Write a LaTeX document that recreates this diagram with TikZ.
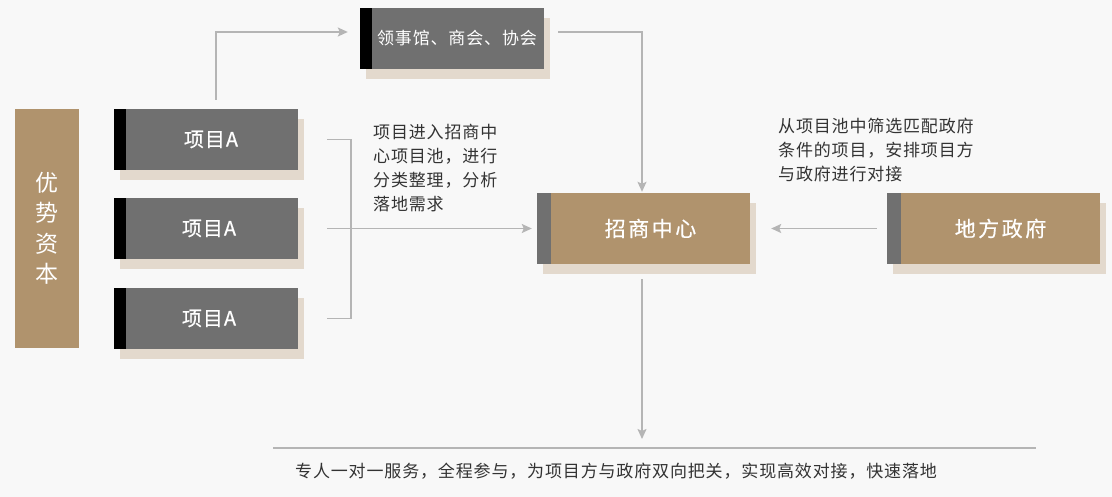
\documentclass[tikz,border=0pt]{standalone}
\usepackage{fontspec}
\setmainfont{Noto Sans CJK SC}
\newfontfamily\cjkA[LetterSpace=5]{Noto Sans CJK SC}
\newfontfamily\cjkM[LetterSpace=5,FakeBold=0.6]{Noto Sans CJK SC}
\newfontfamily\cjkB[LetterSpace=12,FakeBold=0.4]{Noto Sans CJK SC}
\usetikzlibrary{arrows.meta,shadows}
\definecolor{bgc}{HTML}{F8F8F8}
\definecolor{tan}{HTML}{B0936D}
\definecolor{dgray}{HTML}{707070}
\definecolor{shad}{HTML}{E3D9CD}
\definecolor{linec}{HTML}{B5B5B5}
\definecolor{txt}{HTML}{333333}
\tikzset{
  boxbase/.style={draw=none, inner sep=0pt, minimum width=184pt, minimum height=61pt,
    general shadow={fill=shad, shadow xshift=6pt, shadow yshift=-10pt}},
  graybox/.style={boxbase, fill=dgray,
    path picture={\fill[black] (path picture bounding box.north west) rectangle ([xshift=12pt]path picture bounding box.south west);}},
  tanbox/.style={boxbase, fill=tan, minimum width=213pt, minimum height=71pt,
    path picture={\fill[dgray] (path picture bounding box.north west) rectangle ([xshift=14pt]path picture bounding box.south west);}},
  boxtext/.style={text=white},
  desc/.style={text=txt, inner sep=0pt, align=left, font=\cjkA\fontsize{17}{24}\selectfont},
  conn/.style={draw=linec, line width=1.6pt},
  arr/.style={conn, -{Stealth[length=10pt, width=9pt, inset=2pt]}},
}
\begin{document}
\begin{tikzpicture}[x=1pt,y=-1pt]
\fill[bgc] (0,0) rectangle (1112,497);
\useasboundingbox (0,0) rectangle (1112,497);

% left column
\node[fill=tan, minimum width=64pt, minimum height=239pt, inner sep=0pt, text=white,
  align=center, font=\fontsize{23}{30.5}\selectfont] (ys) at (47,228.5) {优\\势\\资\\本};

% project boxes
\node[graybox, label={[boxtext, xshift=5pt, font=\cjkM\fontsize{20}{24}\selectfont]center:项目A}] (a1) at (206,139.5) {};
\node[graybox, label={[boxtext, xshift=3pt, font=\cjkM\fontsize{20}{24}\selectfont]center:项目A}] (a2) at (206,228.5) {};
\node[graybox, label={[boxtext, xshift=3pt, font=\cjkM\fontsize{20}{24}\selectfont]center:项目A}] (a3) at (206,318.5) {};

% consulate box
\node[graybox, label={[boxtext, xshift=5pt, font=\cjkA\fontsize{17}{24}\selectfont]center:领事馆、商会、协会}] (ls) at (452,38.5) {};

% centre and government
\node[tanbox, label={[boxtext, xshift=7pt, font=\cjkB\fontsize{21}{24}\selectfont]center:招商中心}] (zs) at (643.5,228.5) {};
\node[tanbox, label={[boxtext, xshift=7pt, font=\cjkB\fontsize{21}{24}\selectfont]center:地方政府}] (df) at (993.5,228.5) {};

% descriptions
\node[desc, anchor=north west] (t1) at (373,124) {项目进入招商中\\心项目池，进行\\分类整理，分析\\落地需求};
\node[desc, anchor=north west] (t2) at (778,118) {从项目池中筛选匹配政府\\条件的项目，安排项目方\\与政府进行对接};

% bottom line and text
\coordinate (bl) at (273,448);
\coordinate (br) at (1036,448);
\coordinate (tipc) at (0,439);
\draw[conn] (bl) -- (br);
\node[desc, anchor=west] (bt) at (295,471) {专人一对一服务，全程参与，为项目方与政府双向把关，实现高效对接，快速落地};

% connectors
\draw[arr] ([xshift=10pt, yshift=9pt]a1.north) |- ([xshift=-12pt, yshift=6.5pt]ls.west);
\draw[arr] ([xshift=14pt, yshift=6.5pt]ls.east) -| ([xshift=-1.5pt, yshift=1pt]zs.north);
\draw[conn] ([xshift=29pt]a1.east) -| ([xshift=53pt]a2.east) |- ([xshift=29pt]a3.east);
\draw[arr] ([xshift=29pt]a2.east) -- ([xshift=-5pt]zs.west);
\draw[arr] ([xshift=-10pt]df.west) -- ([xshift=21pt]zs.east);
\draw[arr] ([xshift=-1.5pt, yshift=-15pt]zs.south) -- ([xshift=-1.5pt]zs.south |- tipc);
\end{tikzpicture}
\end{document}
